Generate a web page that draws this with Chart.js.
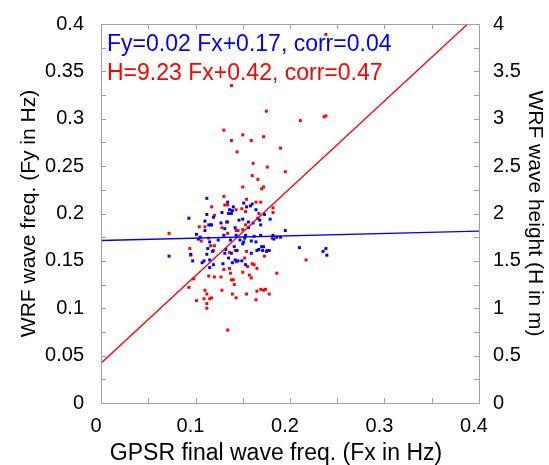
<!DOCTYPE html>
<html>
<head>
<meta charset="utf-8">
<script src="https://cdn.jsdelivr.net/npm/chart.js@4"></script>
<style>
  html, body { margin: 0; padding: 0; background: #fff; }
</style>
</head>
<body>
<canvas id="myChart" width="549" height="465"></canvas>
<script>
// blue: GPSR freq (Fx) vs WRF freq (Fy), left axis
const fxBlue = [0.072,0.093,0.095,0.097,0.101,0.103,0.105,0.107,0.109,0.110,
  0.110,0.112,0.112,0.112,0.113,0.114,0.115,0.115,0.115,0.116,
  0.117,0.118,0.119,0.119,0.124,0.127,0.128,0.129,0.130,0.131,
  0.131,0.132,0.133,0.134,0.135,0.135,0.136,0.137,0.138,0.138,
  0.139,0.139,0.140,0.141,0.142,0.142,0.143,0.144,0.145,0.146,
  0.147,0.149,0.150,0.150,0.151,0.151,0.152,0.153,0.153,0.154,
  0.156,0.156,0.158,0.159,0.159,0.160,0.161,0.162,0.164,0.164,
  0.165,0.166,0.167,0.168,0.169,0.169,0.170,0.171,0.172,0.173,
  0.175,0.176,0.178,0.179,0.182,0.183,0.186,0.190,0.195,0.210,
  0.235,0.238,0.239];
const fyBlue = [0.155,0.195,0.157,0.150,0.178,0.173,0.175,0.148,0.150,0.182,
  0.192,0.216,0.157,0.199,0.163,0.188,0.170,0.151,0.143,0.188,
  0.188,0.160,0.146,0.196,0.172,0.190,0.201,0.147,0.177,0.184,
  0.158,0.162,0.191,0.212,0.153,0.200,0.204,0.172,0.200,0.158,
  0.203,0.148,0.207,0.165,0.185,0.151,0.177,0.161,0.150,0.193,
  0.172,0.150,0.168,0.194,0.211,0.170,0.174,0.146,0.177,0.207,
  0.185,0.191,0.208,0.171,0.158,0.210,0.190,0.176,0.204,0.170,
  0.161,0.195,0.162,0.193,0.177,0.188,0.165,0.161,0.165,0.199,
  0.160,0.161,0.161,0.194,0.177,0.173,0.175,0.175,0.182,0.164,
  0.160,0.163,0.156];

// red: GPSR freq (Fx) vs WRF wave height (H), right axis
const fxRed = [0.072,0.093,0.094,0.095,0.098,0.101,0.104,0.106,0.110,0.110,
  0.109,0.112,0.112,0.112,0.114,0.114,0.115,0.117,0.117,0.116,
  0.120,0.120,0.120,0.119,0.127,0.128,0.128,0.130,0.130,0.131,
  0.134,0.134,0.134,0.136,0.134,0.136,0.137,0.138,0.140,0.139,
  0.141,0.142,0.143,0.143,0.143,0.143,0.145,0.149,0.150,0.150,
  0.150,0.152,0.153,0.153,0.154,0.154,0.155,0.157,0.159,0.160,
  0.162,0.164,0.164,0.165,0.165,0.167,0.169,0.169,0.170,0.172,
  0.173,0.172,0.174,0.178,0.181,0.182,0.182,0.186,0.217,
  0.238,0.138,0.175,0.211,0.236,0.238,0.130,0.150,0.138,0.159,
  0.172,0.144,0.190,0.161,0.176,0.160,0.166,0.195,0.154];
const hRed = [1.79,1.22,1.63,1.56,1.31,1.08,1.86,1.71,1.86,1.19,
  1.10,1.15,1.05,1.00,1.34,1.74,1.10,2.07,1.11,1.66,
  1.66,1.98,1.33,1.61,1.33,1.85,1.19,2.18,1.41,2.09,
  2.09,1.91,1.79,1.59,0.77,1.42,1.37,1.30,1.30,1.15,
  1.25,1.61,1.11,1.82,2.04,1.49,1.82,2.05,1.38,1.83,
  2.28,1.53,2.02,1.88,1.60,1.15,1.44,1.35,1.32,1.47,
  1.46,1.09,2.12,1.18,1.42,2.00,2.12,1.20,2.26,2.28,
  1.55,1.19,1.20,1.15,1.74,2.01,2.06,1.37,1.51,
  3.89,3.35,3.08,2.98,3.02,3.03,2.88,2.83,2.77,2.77,
  2.81,2.65,2.69,2.53,2.49,2.40,2.36,2.44,2.15];

// fit lines (end points)
const blueLineFx = [0, 0.4];
const blueLineFy = [0.1715, 0.1815];
const redLineFx = [0, 0.388];
const redLineH = [0.42, 4.0];

const blueLabel = "Fy=0.02 Fx+0.17, corr=0.04";
const redLabel = "H=9.23 Fx+0.42, corr=0.47";
const xTitle = "GPSR final wave freq. (Fx in Hz)";

const FONT = '"Liberation Sans", Arial, sans-serif';
const BLUE = "rgb(0,0,255)";
const RED = "rgb(255,0,0)";
const AXIS_GRAY = "rgb(160,160,160)";

function pts(xs, ys) {
  return xs.map((x, i) => ({ x: x, y: ys[i] }));
}
function fmt(v) {
  return String(+v.toFixed(3));
}
function isStep(v, step) {
  return Math.abs(Math.round(v / step) * step - v) < 1e-9;
}

// box + inward tick marks like the matlab figure
const framePlugin = {
  id: "frame",
  afterDatasetsDraw(chart) {
    const { ctx, chartArea: a, scales } = chart;
    const len = 5;
    ctx.save();
    ctx.strokeStyle = AXIS_GRAY;
    ctx.lineWidth = 1;
    ctx.beginPath();
    scales.x.ticks.forEach(t => {
      const px = Math.round(scales.x.getPixelForValue(t.value)) + 0.5;
      ctx.moveTo(px, a.bottom); ctx.lineTo(px, a.bottom - len);
      ctx.moveTo(px, a.top); ctx.lineTo(px, a.top + len);
    });
    scales.y.ticks.forEach(t => {
      const py = Math.round(scales.y.getPixelForValue(t.value)) + 0.5;
      ctx.moveTo(a.left, py); ctx.lineTo(a.left + len, py);
    });
    scales.y2.ticks.forEach(t => {
      const py = Math.round(scales.y2.getPixelForValue(t.value)) + 0.5;
      ctx.moveTo(a.right, py); ctx.lineTo(a.right - len, py);
    });
    ctx.stroke();
    ctx.strokeRect(Math.round(a.left) + 0.5, Math.round(a.top) + 0.5,
      Math.round(a.right - a.left), Math.round(a.bottom - a.top));
    ctx.restore();
  },
  afterDraw(chart) {
    const ctx = chart.ctx;
    ctx.save();
    ctx.font = "23px " + FONT;
    ctx.textBaseline = "middle";
    ctx.textAlign = "left";
    ctx.fillStyle = BLUE;
    ctx.fillText(blueLabel, 107, 45);
    ctx.fillStyle = RED;
    ctx.fillText(redLabel, 107, 74);
    // x axis title, sits a little left of the plot centre in the original
    ctx.fillStyle = "#000";
    ctx.textAlign = "center";
    ctx.fillText(xTitle, 276, 454);
    ctx.restore();
  },
};

const ctx = document.getElementById("myChart");
const myChart = new Chart(ctx, {
  type: "scatter",
  data: {
    datasets: [
      {
        data: pts(blueLineFx, blueLineFy),
        yAxisID: "y",
        showLine: true,
        borderColor: BLUE,
        borderWidth: 1.3,
        pointRadius: 0,
        order: 0,
      },
      {
        data: pts(redLineFx, redLineH),
        yAxisID: "y2",
        showLine: true,
        borderColor: RED,
        borderWidth: 1.3,
        pointRadius: 0,
        order: 0,
      },
      {
        data: pts(fxBlue, fyBlue),
        yAxisID: "y",
        pointStyle: "rect",
        pointRadius: 2.1,
        pointBorderWidth: 0,
        backgroundColor: BLUE,
        order: 1,
      },
      {
        data: pts(fxRed, hRed),
        yAxisID: "y2",
        pointStyle: "rect",
        pointRadius: 2.1,
        pointBorderWidth: 0,
        backgroundColor: RED,
        order: 2,
      },
    ],
  },
  options: {
    responsive: false,
    animation: false,
    layout: { padding: { top: 24, left: 0, right: 0, bottom: 0 } },
    plugins: { legend: { display: false }, tooltip: { enabled: false } },
    scales: {
      x: {
        type: "linear",
        position: "bottom",
        min: 0,
        max: 0.4,
        grid: { display: false },
        border: { display: false },
        ticks: {
          stepSize: 0.05,
          autoSkip: false,
          maxRotation: 0,
          padding: 3,
          labelOffset: -5,
          color: "#000",
          font: { family: FONT, size: 20 },
          callback: v => (isStep(v, 0.1) ? fmt(v) : ""),
        },
        afterFit: s => { s.height = 62; },
      },
      y: {
        type: "linear",
        position: "left",
        min: 0,
        max: 0.4,
        grid: { display: false },
        border: { display: false },
        ticks: {
          stepSize: 0.025,
          autoSkip: false,
          padding: 9,
          color: "#000",
          font: { family: FONT, size: 20 },
          callback: v => (isStep(v, 0.05) ? fmt(v) : ""),
        },
        title: {
          display: true,
          text: "WRF wave freq. (Fy in Hz)",
          color: "#000",
          font: { family: FONT, size: 21, lineHeight: 1 },
          padding: { top: 19, bottom: 0 },
        },
        afterFit: s => { s.width = 101; },
      },
      y2: {
        type: "linear",
        position: "right",
        min: 0,
        max: 4,
        grid: { display: false },
        border: { display: false },
        ticks: {
          stepSize: 0.25,
          autoSkip: false,
          padding: 6,
          color: "#000",
          font: { family: FONT, size: 20 },
          callback: v => (isStep(v, 0.5) ? fmt(v) : ""),
        },
        title: {
          display: true,
          text: "WRF wave height (H in m)",
          color: "#000",
          font: { family: FONT, size: 21, lineHeight: 1 },
          padding: { top: 4, bottom: 0 },
        },
        afterFit: s => { s.width = 70; },
      },
    },
  },
  plugins: [framePlugin],
});
</script>
</body>
</html>
